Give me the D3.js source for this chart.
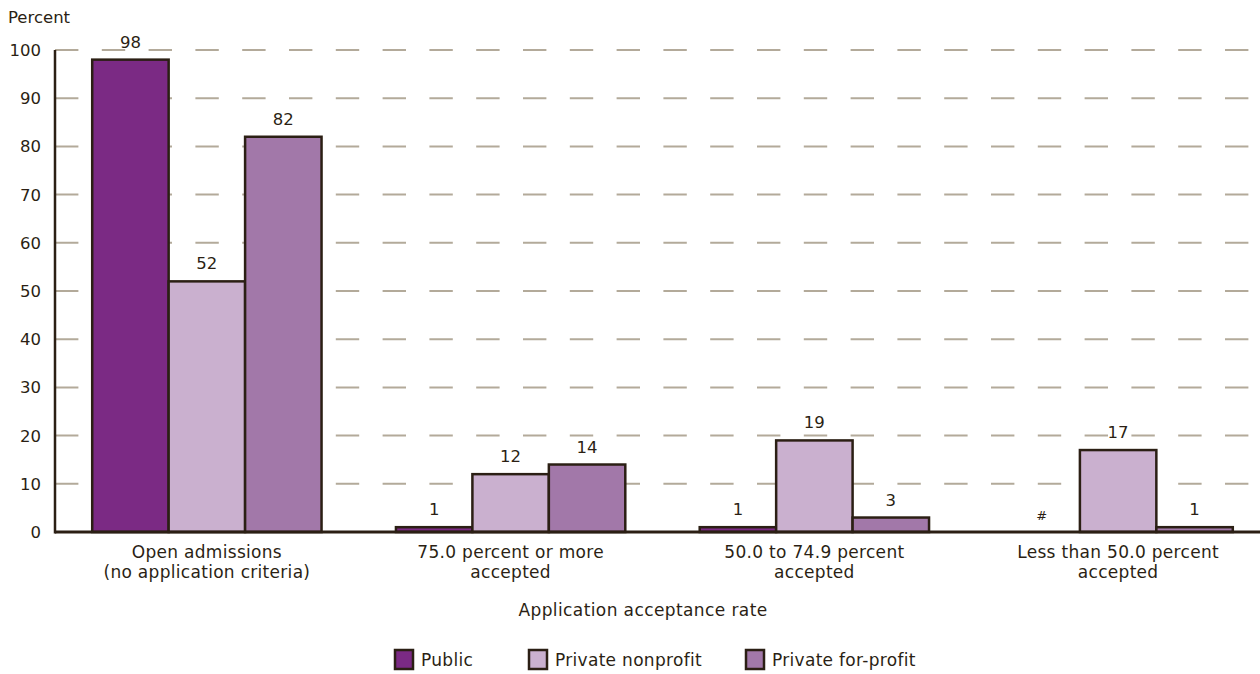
<!DOCTYPE html>
<html><head><meta charset="utf-8">
<script src="https://cdn.jsdelivr.net/npm/d3@7"></script>
<style>
html,body{margin:0;padding:0;background:#fff;}
svg{display:block;}
text{font-family:"DejaVu Sans",sans-serif;fill:#2b1f14;}
</style></head>
<body>
<svg id="chart" width="1260" height="674"></svg>
<script>
const categories = [
  ["Open admissions","(no application criteria)"],
  ["75.0 percent or more","accepted"],
  ["50.0 to 74.9 percent","accepted"],
  ["Less than 50.0 percent","accepted"]
];
const seriesNames = ["Public","Private nonprofit","Private for-profit"];
const publicVals = [98, 1, 1, 0];
const nonprofitVals = [52, 12, 19, 17];
const forprofitVals = [82, 14, 3, 1];
const labelPublic = ["98","1","1","#"];
const labelNonprofit = ["52","12","19","17"];
const labelForprofit = ["82","14","3","1"];
const yTicks = [0,10,20,30,40,50,60,70,80,90,100];
const colors = ["#7b2a84","#cab0cf","#a278a9"];

const series = [publicVals, nonprofitVals, forprofitVals];
const labels = [labelPublic, labelNonprofit, labelForprofit];

const svg = d3.select("#chart");
const x0 = d3.scaleBand().domain(d3.range(categories.length)).range([55,1270]).paddingInner(0.245).paddingOuter(0.1225);
const x1 = d3.scaleBand().domain(d3.range(seriesNames.length)).range([0, x0.bandwidth()]);
const y = d3.scaleLinear().domain([0,100]).range([532,50]);

// gridlines
svg.append("g").selectAll("line").data(yTicks.filter(d=>d>0)).join("line")
  .attr("x1",55).attr("x2",1250).attr("y1",d=>y(d)).attr("y2",d=>y(d))
  .attr("stroke","#b3aa9a").attr("stroke-width",2).attr("stroke-dasharray","23.4,23.4");

// y tick labels
svg.append("g").selectAll("text").data(yTicks).join("text")
  .attr("x",41).attr("y",d=>y(d)).attr("dy","0.36em").attr("text-anchor","end")
  .attr("font-size",16.5).text(d=>d);

svg.append("text").attr("x",8).attr("y",23).attr("font-size",16.5).text("Percent");

// bars
const groups = svg.append("g").selectAll("g").data(categories).join("g")
  .attr("transform",(d,i)=>`translate(${x0(i)},0)`);
groups.each(function(c,ci){
  const g = d3.select(this);
  series.forEach((s,si)=>{
    const v = s[ci];
    if (v > 0) {
      g.append("rect").attr("x",x1(si)).attr("width",x1.bandwidth())
        .attr("y",y(v)).attr("height",y(0)-y(v))
        .attr("fill",colors[si]).attr("stroke","#2b1f14").attr("stroke-width",2.5);
    }
    g.append("text").attr("x",x1(si)+x1.bandwidth()/2).attr("y",y(v)-12)
      .attr("text-anchor","middle").attr("font-size", labels[si][ci]==="#"?13:16.5)
      .text(labels[si][ci]);
  });
});

// axes lines
svg.append("line").attr("x1",55).attr("x2",1260).attr("y1",y(0)).attr("y2",y(0))
  .attr("stroke","#2b1f14").attr("stroke-width",3);
svg.append("line").attr("x1",55).attr("x2",55).attr("y1",y(100)).attr("y2",y(0)+1.5)
  .attr("stroke","#2b1f14").attr("stroke-width",2.5);

// category labels
categories.forEach((c,i)=>{
  const cx = x0(i)+x0.bandwidth()/2;
  const t = svg.append("text").attr("x",cx).attr("y",558)
    .attr("text-anchor","middle").attr("font-size",17).attr("letter-spacing",0.3);
  c.forEach((line,li)=>{
    t.append("tspan").attr("x",cx).attr("dy",li===0?0:20).text(line);
  });
});

svg.append("text").attr("x",643).attr("y",616).attr("text-anchor","middle")
  .attr("font-size",17).attr("letter-spacing",0.4).text("Application acceptance rate");

// legend
const legendX = [395, 529, 746];
const lg = svg.append("g").selectAll("g").data(seriesNames).join("g")
  .attr("transform",(d,i)=>`translate(${legendX[i]},650)`);
lg.append("rect").attr("width",18).attr("height",19).attr("fill",(d,i)=>colors[i])
  .attr("stroke","#2b1f14").attr("stroke-width",2.5);
lg.append("text").attr("x",26).attr("y",10).attr("dy","0.36em").attr("font-size",17)
  .attr("letter-spacing",0.3).text(d=>d);
</script>
</body></html>
